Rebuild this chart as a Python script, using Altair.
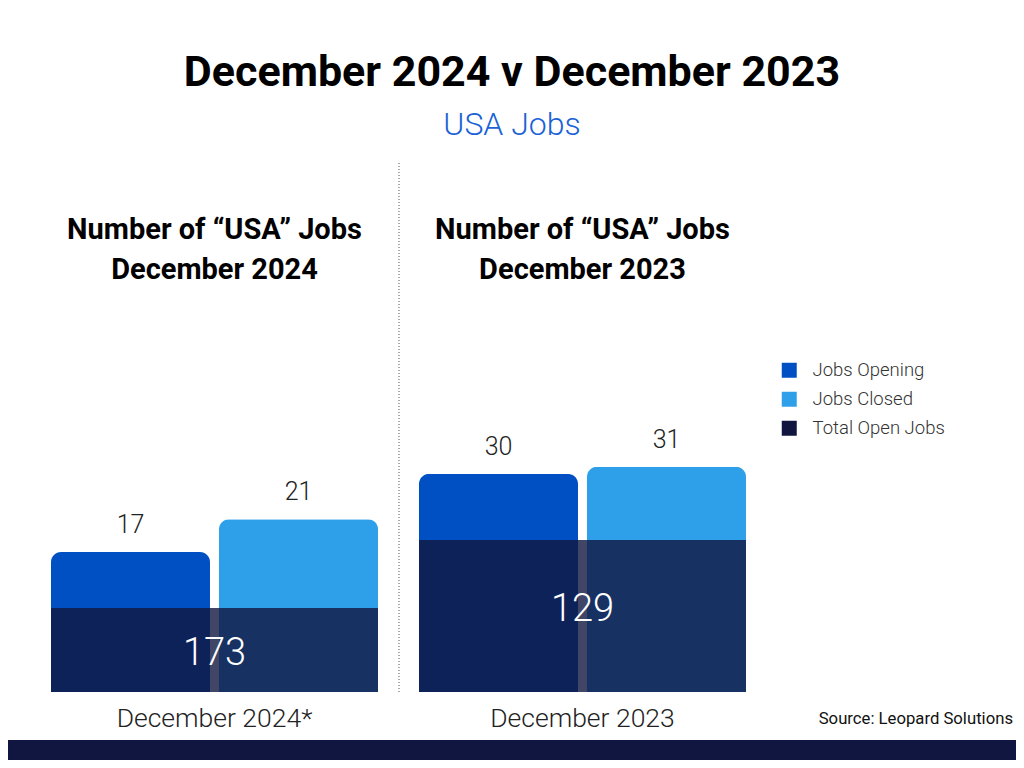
import altair as alt
import pandas as pd

# ---------------- data ----------------
main_title = "December 2024 v December 2023"
sub_title = "USA Jobs"
source_note = "Source: Leopard Solutions"
panels = ["December 2024*", "December 2023"]
heading_line1 = ["Number of “USA” Jobs", "Number of “USA” Jobs"]
heading_line2 = ["December 2024", "December 2023"]
series = ["Jobs Opening", "Jobs Closed", "Total Open Jobs"]
colors = ["#0050c4", "#2ea0ea", "#111640"]
jobs_opening = [17, 30]
jobs_closed = [21, 31]
total_open = [173, 129]

# ---------------- layout / style ----------------
W, H = 1008, 752
BASE = 684
FONT = "Roboto"
# per-panel scale tops (the infographic draws each panel on its own scale)
bar_top = {panels[0]: 83.1, panels[1]: 94.1}
total_top = {panels[0]: 1408.7, panels[1]: 580.5}
total_label_dy = {panels[0]: 4, panels[1]: -6}

bars = pd.DataFrame({
    "panel": panels * 2,
    "series": [series[0]] * 2 + [series[1]] * 2,
    "value": jobs_opening + jobs_closed,
})
totals = pd.DataFrame({"panel": panels, "series": series[2], "value": total_open})
heads = pd.DataFrame({"panel": panels, "l1": heading_line1, "l2": heading_line2})
one = pd.DataFrame({"k": [0]})

x_enc = alt.X("panel:N", sort=panels,
              scale=alt.Scale(domain=panels, range=[43, 738], paddingInner=0.1114, paddingOuter=0),
              axis=None)
xoff = alt.XOffset("series:N", sort=series[:2],
                   scale=alt.Scale(domain=series[:2], paddingInner=0.0536, paddingOuter=0))
color = alt.Color("series:N",
                  scale=alt.Scale(domain=series, range=colors),
                  legend=alt.Legend(title=None, orient="none", legendX=772, legendY=353,
                                    symbolType="square", symbolSize=225, symbolOpacity=1,
                                    symbolStrokeWidth=0,
                                    labelFont=FONT, labelFontSize=18.5, labelFontWeight=300,
                                    labelColor="#333", labelOffset=14, rowPadding=10,
                                    padding=0))


def yscale(top):
    return alt.Scale(domain=[0, top], range=[BASE, 0], nice=False, zero=True)


layers = []
for p in panels:
    layers.append(
        alt.Chart(bars).transform_filter(alt.datum.panel == p)
        .mark_bar(cornerRadiusTopLeft=10, cornerRadiusTopRight=10)
        .encode(x=x_enc, xOffset=xoff,
                y=alt.Y("value:Q", scale=yscale(bar_top[p]), axis=None),
                color=color)
    )
for p in panels:
    layers.append(
        alt.Chart(bars).transform_filter(alt.datum.panel == p)
        .mark_text(font=FONT, fontSize=25, fontWeight=300, color="#222",
                   baseline="alphabetic", dy=-19)
        .encode(x=x_enc, xOffset=xoff,
                y=alt.Y("value:Q", scale=yscale(bar_top[p]), axis=None),
                text="value:Q")
    )
for p in panels:
    layers.append(
        alt.Chart(totals).transform_filter(alt.datum.panel == p)
        .mark_bar(opacity=0.8)
        .encode(x=x_enc,
                y=alt.Y("value:Q", scale=yscale(total_top[p]), axis=None),
                color=color)
    )
for p in panels:
    layers.append(
        alt.Chart(totals).transform_filter(alt.datum.panel == p)
        .transform_calculate(half="datum.value / 2")
        .mark_text(font=FONT, fontSize=38, fontWeight=300, color="white",
                   baseline="middle", dy=total_label_dy[p])
        .encode(x=x_enc,
                y=alt.Y("half:Q", scale=yscale(total_top[p]), axis=None),
                text="value:Q")
    )

# panel headings
layers.append(
    alt.Chart(heads).mark_text(font=FONT, fontSize=29, fontWeight="bold", color="#000",
                               baseline="middle")
    .encode(x=x_enc, y=alt.value(222), text="l1:N")
)
layers.append(
    alt.Chart(heads).mark_text(font=FONT, fontSize=29, fontWeight="bold", color="#000",
                               baseline="middle")
    .encode(x=x_enc, y=alt.value(262), text="l2:N")
)
# category labels under bars
layers.append(
    alt.Chart(totals).mark_text(font=FONT, fontSize=26.5, fontWeight=300, color="#222",
                                baseline="middle")
    .encode(x=x_enc, y=alt.value(711), text="panel:N")
)
# title / subtitle
layers.append(
    alt.Chart(one).mark_text(font=FONT, fontSize=43, fontWeight="bold", color="#000",
                             baseline="middle")
    .encode(x=alt.value(504), y=alt.value(65), text=alt.value(main_title))
)
layers.append(
    alt.Chart(one).mark_text(font=FONT, fontSize=32, fontWeight=300, color="#1a62d6",
                             baseline="middle")
    .encode(x=alt.value(504), y=alt.value(117), text=alt.value(sub_title))
)
# divider
layers.append(
    alt.Chart(one).mark_rule(color="#555", strokeDash=[1, 2], strokeWidth=1)
    .encode(x=alt.value(391), y=alt.value(155), y2=alt.value(BASE))
)
# source
layers.append(
    alt.Chart(one).mark_text(font=FONT, fontSize=16.7, color="#111", align="right",
                             baseline="middle")
    .encode(x=alt.value(1005), y=alt.value(711), text=alt.value(source_note))
)
# bottom band
layers.append(
    alt.Chart(one).mark_rect(color="#111640")
    .encode(x=alt.value(-10), x2=alt.value(1030), y=alt.value(732), y2=alt.value(780))
)

chart = (
    alt.layer(*layers)
    .resolve_scale(y="independent")
    .properties(width=W, height=H, padding=0, autosize="none", background="white")
    .configure_view(stroke=None)
)

chart.save("out.html", embed_options={"renderer": "svg", "actions": False})
